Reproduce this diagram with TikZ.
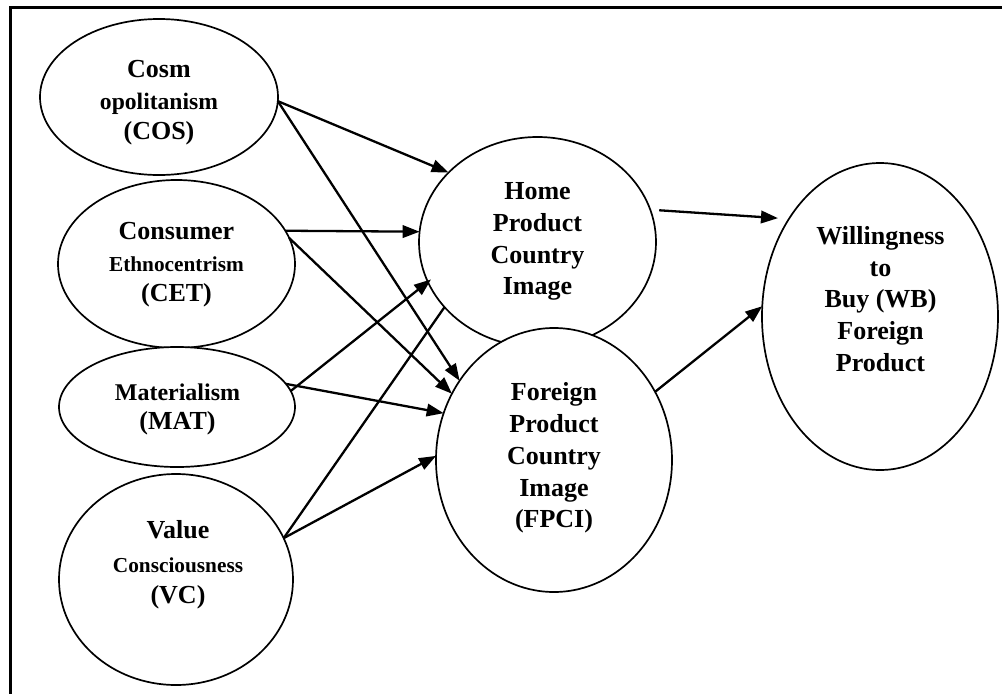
\documentclass[tikz,border=0pt]{standalone}
\usepackage{fontspec}
\setmainfont{Liberation Serif}
\usetikzlibrary{shapes.geometric,arrows.meta}
\begin{document}
\begin{tikzpicture}[x=1pt,y=-1pt,
  ell/.style={draw,ellipse,line width=1.7pt,fill=white,inner sep=0pt,outer sep=0pt},
  lbl/.style={align=center,inner sep=0pt,font=\bfseries\fontsize{26}{31.8}\selectfont},
  arr/.style={line width=2.3pt,-{Triangle[length=17pt,width=12.5pt]}},
  ln/.style={line width=2.3pt}]
\useasboundingbox (0,0) rectangle (1002,694);
\draw[line width=2.8pt] (1002,7.6) -- (10.7,7.6) -- (10.7,694);

% ellipses
\node[ell,minimum width=238pt,minimum height=156pt] (cos) at (159,97) {};
\node[ell,minimum width=237pt,minimum height=168pt] (cet) at (176.5,264) {};
\node[ell,minimum width=236pt,minimum height=120pt] (mat) at (177,407) {};
\node[ell,minimum width=234pt,minimum height=211pt] (vc) at (176,579.5) {};
\node[ell,minimum width=237pt,minimum height=210pt] (hpci) at (537.5,242) {};
\node[ell,minimum width=236pt,minimum height=264pt] (fpci) at (554,460) {};
\node[ell,minimum width=236pt,minimum height=307pt] (wb) at (880,316.5) {};

% texts
\node[lbl] (cos-t) at (159,102.5) {Cosm\\{\fontsize{23.6}{31.8}\selectfont opolitanism}\\[-1.8pt](COS)};
\node[lbl] (cet-t) at (176.5,265) {Consumer\\{\fontsize{21.3}{31.8}\selectfont Ethnocentrism}\\[-1.8pt](CET)};
\node[lbl] (mat-t) at (177.5,409.5) {{\fontsize{24}{31.8}\selectfont Materialism}\\[-2.8pt](MAT)};
\node[lbl] (vc-t) at (178,564.5) {Value\\[2pt]{\fontsize{21.3}{31.8}\selectfont Consciousness}\\[-1pt](VC)};
\node[lbl] (hpci-t) at (537.5,241.5) {Home\\Product\\Country\\Image};
\node[lbl] (fpci-t) at (554,458) {Foreign\\Product\\Country\\Image\\(FPCI)};
\node[lbl] (wb-t) at (880.5,299) {Willingness\\to\\Buy (WB)\\Foreign\\Product};

% connectors
\draw[arr] (cos.-2) -- (hpci.142);
\draw[arr] (cos.-2) -- (fpci.140);
\draw[arr] (cet.17) -- (hpci.175);
\draw[arr] (cet.13) -- (fpci.147);
\draw[arr,shorten >=-4pt] (mat.8) -- (hpci.200);
\draw[arr] (mat.12.5) -- (fpci.157);
\draw[ln] (vc.21) -- (hpci.215);
\draw[arr] (vc.21) -- (fpci.178);
\draw[arr,shorten <=9pt,shorten >=11pt] (hpci.16) -- (wb.133);
\draw[arr] (fpci.34.5) -- (wb.175);
\end{tikzpicture}
\end{document}
